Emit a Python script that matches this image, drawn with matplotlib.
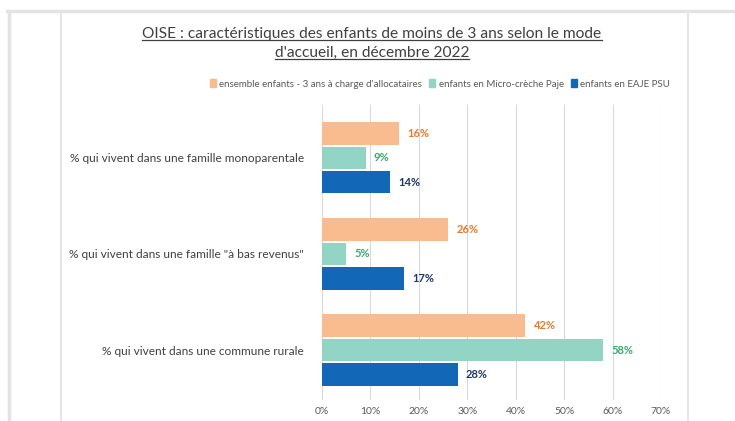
import matplotlib.pyplot as plt
from matplotlib.patches import Rectangle
from matplotlib.lines import Line2D
import numpy as np

# data
categories = ['% qui vivent dans une famille monoparentale',
              '% qui vivent dans une famille "à bas revenus"',
              '% qui vivent dans une commune rurale']
series_names = ["ensemble enfants - 3 ans à charge d'allocataires",
                'enfants en Micro-crèche Paje',
                'enfants en EAJE PSU']
ensemble = [0.16, 0.26, 0.42]
micro_creche = [0.09, 0.05, 0.58]
eaje_psu = [0.14, 0.17, 0.28]
x_ticks = [0, 0.1, 0.2, 0.3, 0.4, 0.5, 0.6, 0.7]

bar_colors = ['#F9BC8F', '#93D5C4', '#1267B6']
label_colors = ['#E8792A', '#3BA86E', '#1F3864']

plt.rcParams['font.family'] = ['Lato', 'DejaVu Sans']

W, H = 735, 421
fig = plt.figure(figsize=(W / 100, H / 100), dpi=100)

# frame lines of the screenshot
def fig_line(x0, y0, x1, y1, color, lw):
    fig.add_artist(Line2D([x0 / W, x1 / W], [1 - y0 / H, 1 - y1 / H],
                          color=color, lw=lw, transform=fig.transFigure))

fig_line(7, 11, 735, 11, '#E3E3E3', 2.5)
fig_line(9, 11, 9, 421, '#E3E3E3', 2.5)
fig_line(61, 11, 61, 421, '#E6E6E6', 1.5)
fig_line(688, 11, 688, 421, '#E6E6E6', 1.5)

# axes
ax_left, ax_right, ax_top, ax_bottom = 322, 661, 105, 400
ax = fig.add_axes([ax_left / W, 1 - ax_bottom / H,
                   (ax_right - ax_left) / W, (ax_bottom - ax_top) / H])

y = np.arange(len(categories))
step = 0.253
height = 0.235
all_series = [ensemble, micro_creche, eaje_psu]
for i, vals in enumerate(all_series):
    pos = y + (i - 1) * step
    ax.barh(pos, vals, height=height, color=bar_colors[i], label=series_names[i], zorder=2)
    for p, v in zip(pos, vals):
        ax.text(v + 0.017, p, f'{round(v * 100)}%', va='center', ha='left',
                color=label_colors[i], fontsize=8, fontweight='bold')

ax.set_xlim(0, 0.7)
ax.set_ylim(2.52, -0.55)
ax.set_xticks(x_ticks)
ax.set_xticklabels([f'{round(t * 100)}%' for t in x_ticks])
ax.set_yticks(y)
ax.set_yticklabels(categories)
ax.tick_params(axis='x', length=0, labelsize=7.5, labelcolor='#595959', pad=5)
ax.tick_params(axis='y', length=0, labelsize=8.6, labelcolor='#404040', pad=13)
ax.grid(axis='x', color='#D9D9D9', lw=0.8, zorder=0)
for s in ax.spines.values():
    s.set_visible(False)

# title, underlined
t1 = fig.text(372 / W, 1 - 34 / H, 'OISE : caractéristiques des enfants de moins de 3 ans selon le mode',
              ha='center', va='center', fontsize=11.2, color='#404040')
t2 = fig.text(372 / W, 1 - 53 / H, "d'accueil, en décembre 2022",
              ha='center', va='center', fontsize=11.2, color='#404040')

# legend
handles = [Rectangle((0, 0), 1, 1, color=c) for c in bar_colors]
fig.legend(handles, series_names, loc='center', bbox_to_anchor=(440 / W, 1 - 84 / H),
           ncol=3, frameon=False, fontsize=7, handlelength=0.6, handleheight=0.9,
           handletextpad=0.4, columnspacing=0.7, labelcolor='#595959')

fig.canvas.draw()
r = fig.canvas.get_renderer()
for t in (t1, t2):
    bb = t.get_window_extent(r)
    yl = bb.y0 + 1
    fig.add_artist(Line2D([bb.x0 / fig.bbox.width, bb.x1 / fig.bbox.width],
                          [yl / fig.bbox.height, yl / fig.bbox.height],
                          color='#404040', lw=0.9, transform=fig.transFigure))

fig.savefig('out.png', dpi=100)
